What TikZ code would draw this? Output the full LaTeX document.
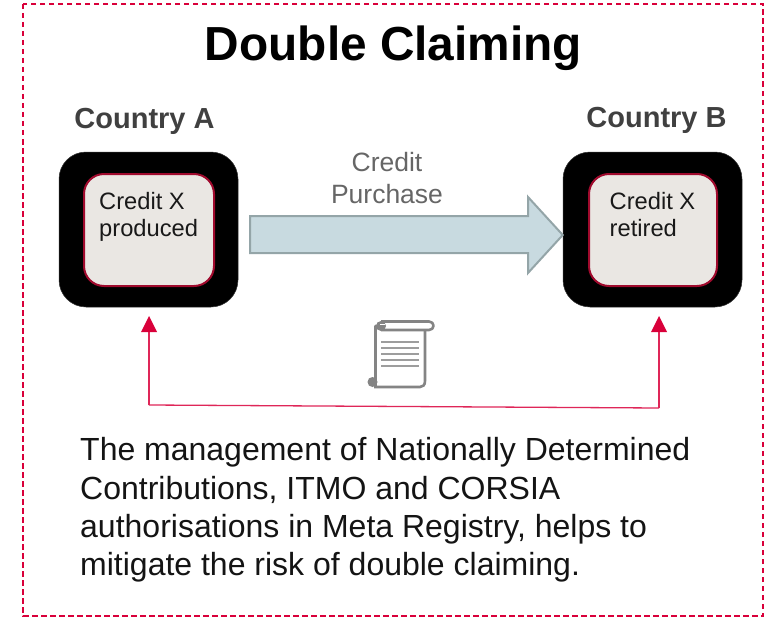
\documentclass[tikz,border=0pt]{standalone}
\usepackage{fontspec}
\setmainfont{Liberation Sans}
\definecolor{crimson}{HTML}{D9003A}
\definecolor{wine}{HTML}{A00A2D}
\definecolor{paper}{HTML}{EAE7E3}
\definecolor{shaft}{HTML}{C8DAE0}
\definecolor{shaftline}{HTML}{94A5A8}
\definecolor{inkgray}{HTML}{404040}
\definecolor{midgray}{HTML}{666666}
\definecolor{scrollgray}{HTML}{848484}
\tikzset{
  outerbox/.style={fill=black,draw=black!80,line width=0.5pt,rounded corners=27pt,minimum width=179pt,minimum height=155pt,inner sep=0pt},
  innerbox/.style={fill=paper,draw=wine,line width=2pt,rounded corners=20pt,minimum height=112pt,inner sep=0pt},
  boxtext/.style={anchor=north west,align=left,inner sep=0pt,font=\fontsize{23.7}{26.5}\selectfont,text=black!90},
  country/.style={font=\fontsize{29}{32}\bfseries\selectfont,text=inkgray,inner sep=0pt},
  redline/.style={draw=crimson!85!white,line width=1.3pt},
  scrollline/.style={draw=scrollgray,line width=2.6pt,line join=round},
  scrollrule/.style={draw=scrollgray!80!white,line width=1.8pt}
}
\begin{document}
\begin{tikzpicture}[x=1pt,y=-1pt]
\useasboundingbox (0,0) rectangle (772,618);
\fill[white] (0,0) rectangle (772,618);
% frame
\draw[crimson,line width=2.2pt,dash pattern=on 5.5pt off 3.5pt] (23,4) rectangle (763,616);
% title
\node[inner sep=0pt,font=\fontsize{47.8}{52}\bfseries\selectfont,text=black] (title) at (393.5,48.5) {Double Claiming};
\node[country] (ca) at (144.5,121) {Country A};
\node[country] (cb) at (656.5,120) {Country B};
% boxes
\node[outerbox] (a) at (148.5,229.5) {};
\node[outerbox] (b) at (652.5,229.5) {};
\node[innerbox,minimum width=130pt] (ai) at (149,230) {};
\node[innerbox,minimum width=128pt] (bi) at (653,230) {};
\node[boxtext] (at) at (99,192.5) {Credit X\\produced};
\node[boxtext] (bt) at (609.5,192.5) {Credit X\\retired};
% block arrow
\draw[fill=shaft,draw=shaftline,line width=2pt,line join=miter]
  (250,216) -- (528,216) -- (528,197) -- (b.west |- 0,235) -- (528,273) -- (528,253) -- (250,253) -- cycle;
\node[font=\fontsize{26.5}{32}\selectfont,text=midgray,align=center,inner sep=0pt] (cp) at (387,178) {Credit\\Purchase};
% red connector
\coordinate (tipa) at (149,316);
\coordinate (tipb) at (659,316);
\coordinate (cora) at (149,405);
\coordinate (corb) at (659,408);
\draw[redline] (cora) -- (tipa |- 0,330);
\draw[redline] (cora) -- (corb);
\draw[redline] (corb) -- (tipb |- 0,330);
\fill[crimson] (tipa) -- ++(8,16) -- ++(-16,0) -- cycle;
\fill[crimson] (tipb) -- ++(8,16) -- ++(-16,0) -- cycle;
% scroll icon
\draw[scrollline,fill=white] (375.5,378) -- (375.5,326) -- (425,326) -- (425,381) .. controls (425,385) and (423,387) .. (420,387) -- (374,387);
\draw[scrollline,fill=white] (381,321.5) -- (429,321.5) .. controls (435,321.5) and (435,330) .. (429,330) -- (381,330);
\fill[scrollgray] (381,326) circle (5);
\fill[white] (380,323.5) rectangle (385,325);
\fill[scrollgray] (372.5,382) circle (5);
\fill[white] (374,379) rectangle (377,385);
\draw[scrollline] (375.5,378) -- (375.5,386);
\foreach \yy in {342,348,354,360,366}
  \draw[scrollrule] (381,\yy) -- (419,\yy);
% body
\node[anchor=north west,align=left,inner sep=0pt,font=\fontsize{32}{38.3}\selectfont,text=black!92] (body) at (80,437.5) {The management of Nationally Determined\\Contributions, ITMO and CORSIA\\authorisations in Meta Registry, helps to\\mitigate the risk of double claiming.};
\end{tikzpicture}
\end{document}
